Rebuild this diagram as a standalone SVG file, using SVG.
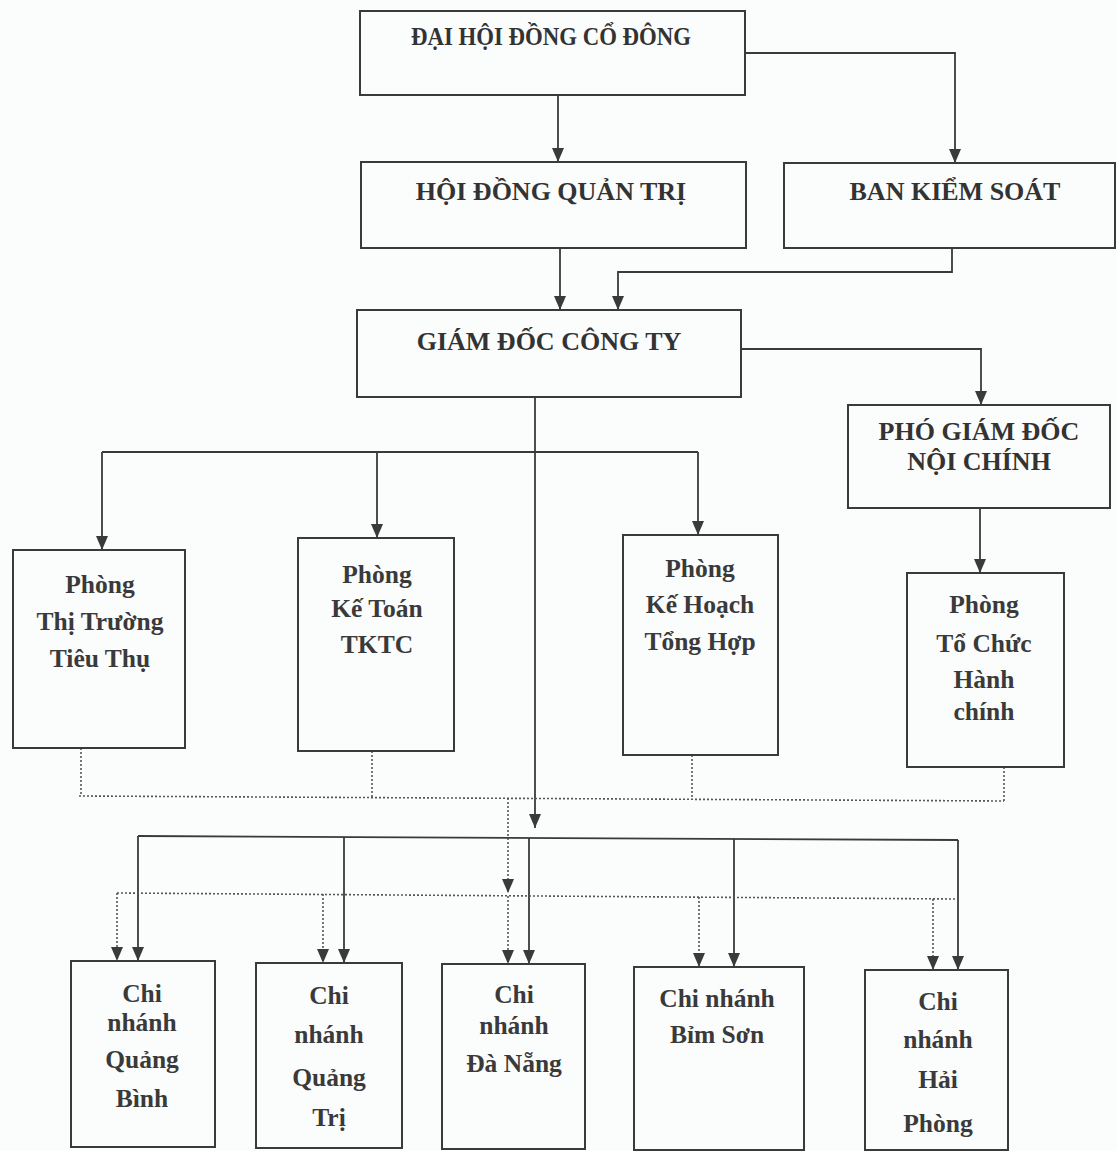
<svg xmlns="http://www.w3.org/2000/svg" width="1117" height="1151" viewBox="0 0 1117 1151">
<defs>
<marker id="ah" viewBox="0 0 12 14" refX="6" refY="14" markerWidth="12" markerHeight="14" markerUnits="userSpaceOnUse" orient="0">
<path d="M0,0 L12,0 L6,14 z" fill="#3a3a3a"/>
</marker>
<style>
.bx{fill:none;stroke:#3a3a3a;stroke-width:2}
.ln{fill:none;stroke:#3a3a3a;stroke-width:1.8}
.dt{fill:none;stroke:#555;stroke-width:1.6;stroke-dasharray:2 2}
.cap{font-family:"Liberation Serif","Times New Roman",serif;font-size:26px;font-weight:bold;fill:#333;text-anchor:middle}
.lo{font-family:"Liberation Serif","Times New Roman",serif;font-size:25.5px;font-weight:bold;fill:#3a3a3a;text-anchor:middle}
</style>
</defs>
<rect width="1117" height="1151" fill="#fbfcfc"/>

<g id="connectors">
<path class="ln" d="M558,95 V162" marker-end="url(#ah)"/>
<path class="ln" d="M745,53 H955 V163" marker-end="url(#ah)"/>
<path class="ln" d="M560,248 V310" marker-end="url(#ah)"/>
<path class="ln" d="M952,248 V272 H618 V310" marker-end="url(#ah)"/>
<path class="ln" d="M741,349 H981 V405" marker-end="url(#ah)"/>
<path class="ln" d="M980,508 V573" marker-end="url(#ah)"/>
<path class="ln" d="M102,452 H698"/>
<path class="ln" d="M102,452 V550" marker-end="url(#ah)"/>
<path class="ln" d="M377,452 V538" marker-end="url(#ah)"/>
<path class="ln" d="M698,452 V535" marker-end="url(#ah)"/>
<path class="ln" d="M535,397 V828" marker-end="url(#ah)"/>
<path class="ln" d="M138,836 L958,840"/>
<path class="ln" d="M138,836 V961" marker-end="url(#ah)"/>
<path class="ln" d="M344,837 V963" marker-end="url(#ah)"/>
<path class="ln" d="M529,838 V964" marker-end="url(#ah)"/>
<path class="ln" d="M734,839 V967" marker-end="url(#ah)"/>
<path class="ln" d="M958,840 V970" marker-end="url(#ah)"/>
<path class="dt" d="M81,748 V796"/>
<path class="dt" d="M372,751 V797"/>
<path class="dt" d="M692,755 V798"/>
<path class="dt" d="M1004,767 V801"/>
<path class="dt" d="M79,796 L1004,801"/>
<path class="dt" d="M508,798 V893" marker-end="url(#ah)"/>
<path class="dt" d="M117,893 L957,899"/>
<path class="dt" d="M117,893 V961" marker-end="url(#ah)"/>
<path class="dt" d="M323,894 V963" marker-end="url(#ah)"/>
<path class="dt" d="M508,896 V964" marker-end="url(#ah)"/>
<path class="dt" d="M699,897 V967" marker-end="url(#ah)"/>
<path class="dt" d="M933,899 V970" marker-end="url(#ah)"/>
</g>

<g id="dai-hoi-dong-co-dong">
<rect class="bx" x="360" y="11" width="385" height="84"/>
<text class="cap" x="551" y="45" textLength="280" lengthAdjust="spacingAndGlyphs">ĐẠI HỘI ĐỒNG CỔ ĐÔNG</text>
</g>
<g id="hoi-dong-quan-tri">
<rect class="bx" x="361" y="162" width="385" height="86"/>
<text class="cap" x="551" y="200">HỘI ĐỒNG QUẢN TRỊ</text>
</g>
<g id="ban-kiem-soat">
<rect class="bx" x="784" y="163" width="331" height="85"/>
<text class="cap" x="955" y="200">BAN KIỂM SOÁT</text>
</g>
<g id="giam-doc-cong-ty">
<rect class="bx" x="357" y="310" width="384" height="87"/>
<text class="cap" x="549" y="350">GIÁM ĐỐC CÔNG TY</text>
</g>
<g id="pho-giam-doc">
<rect class="bx" x="848" y="405" width="262" height="103"/>
<text class="cap" x="979" y="440">PHÓ GIÁM ĐỐC</text>
<text class="cap" x="979" y="470">NỘI CHÍNH</text>
</g>

<g id="phong-thi-truong">
<rect class="bx" x="13" y="550" width="172" height="198"/>
<text class="lo" x="100" y="593">Phòng</text>
<text class="lo" x="100" y="630">Thị Trường</text>
<text class="lo" x="100" y="667">Tiêu Thụ</text>
</g>
<g id="phong-ke-toan">
<rect class="bx" x="298" y="538" width="156" height="213"/>
<text class="lo" x="377" y="583">Phòng</text>
<text class="lo" x="377" y="617">Kế Toán</text>
<text class="lo" x="377" y="653">TKTC</text>
</g>
<g id="phong-ke-hoach">
<rect class="bx" x="623" y="535" width="155" height="220"/>
<text class="lo" x="700" y="577">Phòng</text>
<text class="lo" x="700" y="613">Kế Hoạch</text>
<text class="lo" x="700" y="650">Tổng Hợp</text>
</g>
<g id="phong-to-chuc">
<rect class="bx" x="907" y="573" width="157" height="194"/>
<text class="lo" x="984" y="613">Phòng</text>
<text class="lo" x="984" y="652">Tổ Chức</text>
<text class="lo" x="984" y="688">Hành</text>
<text class="lo" x="984" y="720">chính</text>
</g>

<g id="cn-quang-binh">
<rect class="bx" x="71" y="961" width="144" height="186"/>
<text class="lo" x="142" y="1002">Chi</text>
<text class="lo" x="142" y="1031">nhánh</text>
<text class="lo" x="142" y="1068">Quảng</text>
<text class="lo" x="142" y="1107">Bình</text>
</g>
<g id="cn-quang-tri">
<rect class="bx" x="256" y="963" width="146" height="185"/>
<text class="lo" x="329" y="1004">Chi</text>
<text class="lo" x="329" y="1043">nhánh</text>
<text class="lo" x="329" y="1086">Quảng</text>
<text class="lo" x="329" y="1126">Trị</text>
</g>
<g id="cn-da-nang">
<rect class="bx" x="442" y="964" width="143" height="185"/>
<text class="lo" x="514" y="1003">Chi</text>
<text class="lo" x="514" y="1034">nhánh</text>
<text class="lo" x="514" y="1072">Đà Nẵng</text>
</g>
<g id="cn-bim-son">
<rect class="bx" x="634" y="967" width="170" height="183"/>
<text class="lo" x="717" y="1007">Chi nhánh</text>
<text class="lo" x="717" y="1043">Bỉm Sơn</text>
</g>
<g id="cn-hai-phong">
<rect class="bx" x="865" y="970" width="143" height="180"/>
<text class="lo" x="938" y="1010">Chi</text>
<text class="lo" x="938" y="1048">nhánh</text>
<text class="lo" x="938" y="1088">Hải</text>
<text class="lo" x="938" y="1132">Phòng</text>
</g>
</svg>
